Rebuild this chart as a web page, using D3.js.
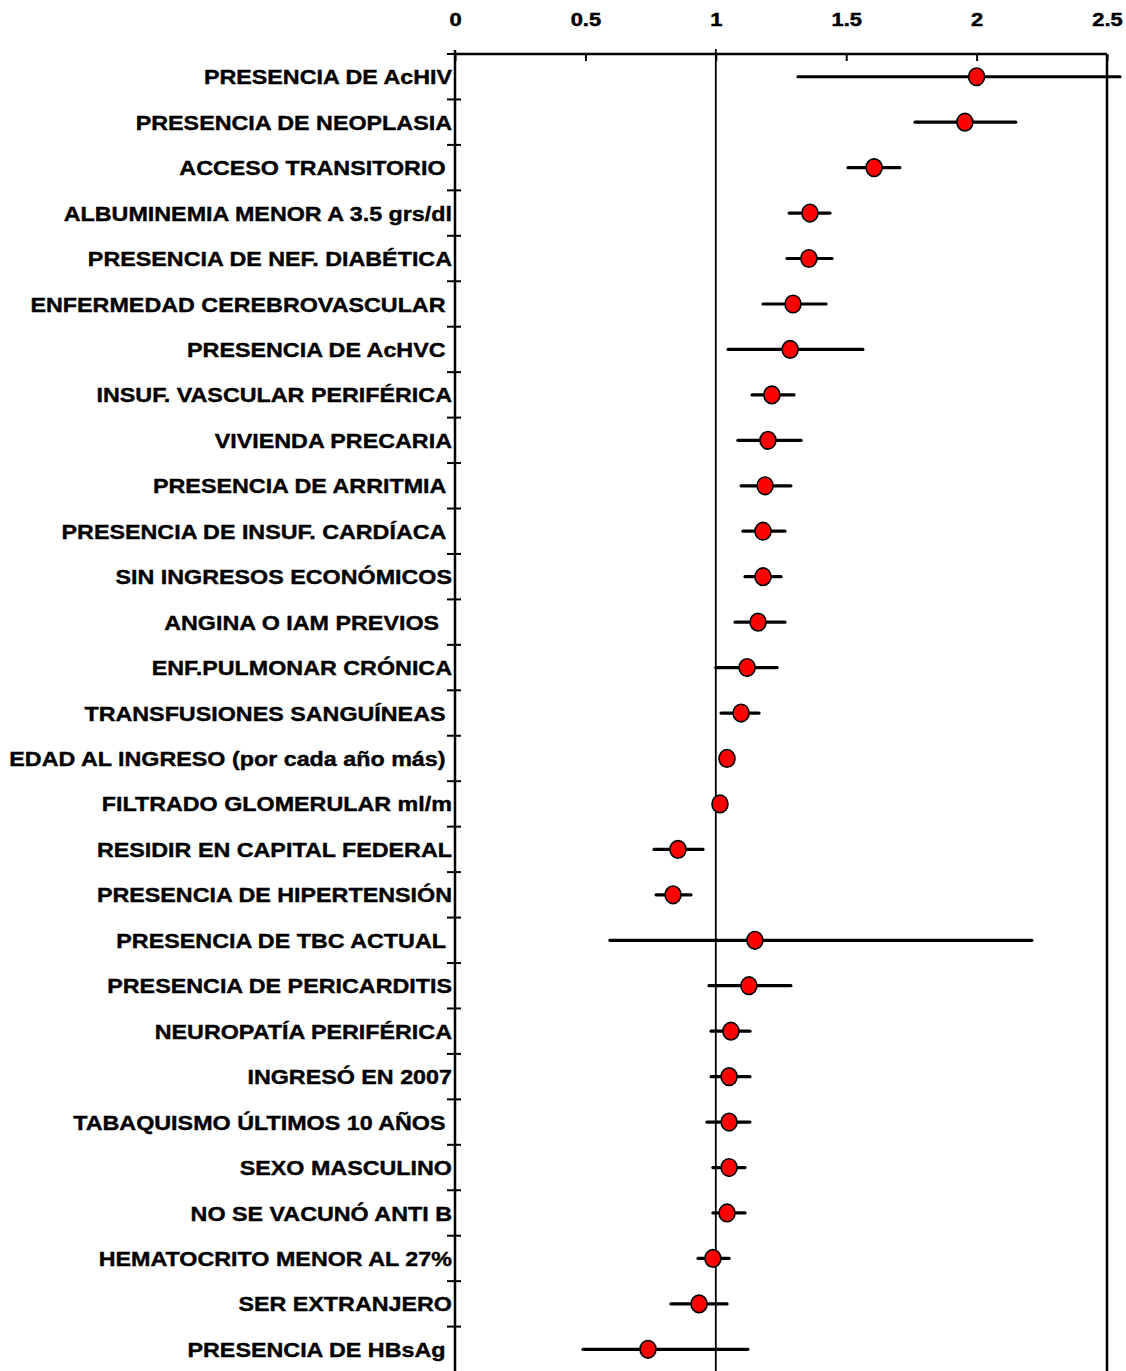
<!DOCTYPE html>
<html lang="es">
<head>
  <meta charset="UTF-8">
  <title>Forest plot</title>
  <script src="https://d3js.org/d3.v7.min.js"></script>
  <style>
    body { margin: 0; background: #fff; }
    text { font-family: "Liberation Sans", Arial, sans-serif; font-weight: bold; white-space: pre; }
  </style>
</head>
<body>
  <svg width="1126" height="1371"></svg>
<script>
  const svg = d3.select("svg");
  const margin = { top: 54, left: 455, right: 19 };
  const width = +svg.attr("width");
  const innerWidth = width - margin.left - margin.right;
  const rowH = 45.45;

  // etiquetas (algunas con espacio final, como en el original)
  const labels = [
    "PRESENCIA DE AcHIV", "PRESENCIA DE NEOPLASIA", "ACCESO TRANSITORIO ",
    "ALBUMINEMIA MENOR A 3.5 grs/dl", "PRESENCIA DE NEF. DIABÉTICA", "ENFERMEDAD CEREBROVASCULAR ",
    "PRESENCIA DE AcHVC ", "INSUF. VASCULAR PERIFÉRICA", "VIVIENDA PRECARIA",
    "PRESENCIA DE ARRITMIA ", "PRESENCIA DE INSUF. CARDÍACA ", "SIN INGRESOS ECONÓMICOS",
    "ANGINA O IAM PREVIOS  ", "ENF.PULMONAR CRÓNICA", "TRANSFUSIONES SANGUÍNEAS ",
    "EDAD AL INGRESO (por cada año más) ", "FILTRADO GLOMERULAR ml/m", "RESIDIR EN CAPITAL FEDERAL",
    "PRESENCIA DE HIPERTENSIÓN", "PRESENCIA DE TBC ACTUAL ", "PRESENCIA DE PERICARDITIS",
    "NEUROPATÍA PERIFÉRICA", "INGRESÓ EN 2007", "TABAQUISMO ÚLTIMOS 10 AÑOS ",
    "SEXO MASCULINO", "NO SE VACUNÓ ANTI B", "HEMATOCRITO MENOR AL 27%",
    "SER EXTRANJERO", "PRESENCIA DE HBsAg "
  ];
  const estimate = [2.0, 1.955, 1.607, 1.361, 1.357, 1.296, 1.285, 1.215, 1.20, 1.189,
    1.181, 1.181, 1.162, 1.12, 1.097, 1.043, 1.016, 0.855, 0.836, 1.15,
    1.127, 1.058, 1.051, 1.051, 1.051, 1.043, 0.989, 0.936, 0.74];
  const lower = [1.315, 1.764, 1.507, 1.281, 1.273, 1.181, 1.047, 1.139, 1.085, 1.097,
    1.104, 1.112, 1.074, 1.0, 1.02, 1.043, 1.016, 0.763, 0.771, 0.594,
    0.974, 0.982, 0.982, 0.966, 0.989, 0.989, 0.932, 0.828, 0.491];
  const upper = [2.55, 2.15, 1.706, 1.438, 1.446, 1.423, 1.564, 1.30, 1.327, 1.288,
    1.265, 1.25, 1.265, 1.235, 1.166, 1.043, 1.016, 0.951, 0.905, 2.212,
    1.288, 1.131, 1.131, 1.131, 1.112, 1.112, 1.051, 1.043, 1.123];
  const xTicks = [0, 0.5, 1, 1.5, 2, 2.5];

  const data = labels.map((l, i) => ({ label: l, est: estimate[i], lo: lower[i], hi: upper[i] }));

  const x = d3.scaleLinear().domain([0, 2.5]).range([0, innerWidth]);
  const y = d3.scaleBand().domain(labels).range([0, rowH * labels.length]).padding(0);
  const bottom = 1400 - margin.top;

  const g = svg.append("g").attr("transform", `translate(${margin.left},${margin.top})`);

  // eje superior
  const axis = g.append("g")
    .call(d3.axisTop(x).tickValues(xTicks).tickFormat(d3.format("")).tickSize(-7).tickPadding(28));
  axis.select(".domain").attr("stroke-width", 2.5).attr("d", `M0,0H${innerWidth}`);
  axis.selectAll(".tick line").attr("stroke-width", 2);
  axis.selectAll(".tick text").attr("font-size", "19px").attr("fill", "#000")
    .attr("font-family", "'Liberation Sans', Arial, sans-serif")
    .attr("stroke", "#000").attr("stroke-width", 0.5)
    .attr("transform", "scale(1.15,1)");

  // eje izquierdo, borde derecho y línea de referencia en 1
  g.append("line").attr("x1", 0).attr("x2", 0).attr("y1", -4).attr("y2", bottom)
    .attr("stroke", "#000").attr("stroke-width", 2.5);
  g.append("line").attr("x1", x(2.5)).attr("x2", x(2.5)).attr("y1", 0).attr("y2", bottom)
    .attr("stroke", "#000").attr("stroke-width", 2.5);
  g.append("line").attr("x1", x(1)).attr("x2", x(1)).attr("y1", -5).attr("y2", bottom)
    .attr("stroke", "#000").attr("stroke-width", 1.8);

  // marcas entre categorías
  g.append("g").selectAll("line").data(labels).join("line")
    .attr("x1", -8).attr("x2", 6)
    .attr("y1", d => y(d)).attr("y2", d => y(d))
    .attr("stroke", "#000").attr("stroke-width", 2);

  // etiquetas
  g.append("g").selectAll("text").data(data).join("text")
    .attr("transform", d => `translate(-3,${y(d.label) + y.bandwidth() / 2}) scale(1.11,1)`)
    .attr("dy", "0.36em")
    .attr("text-anchor", "end")
    .attr("font-size", "21px")
    .attr("fill", "#000")
    .attr("stroke", "#000").attr("stroke-width", 0.4)
    .text(d => d.label);

  // intervalos
  const rows = g.append("g").selectAll("g").data(data).join("g")
    .attr("transform", d => `translate(0,${y(d.label) + y.bandwidth() / 2})`);

  rows.filter(d => d.hi > d.lo).append("line")
    .attr("x1", d => x(d.lo)).attr("x2", d => x(d.hi))
    .attr("stroke", "#000").attr("stroke-width", 3.2).attr("stroke-linecap", "round");

  rows.append("ellipse")
    .attr("cx", d => x(d.est))
    .attr("rx", 8).attr("ry", 8.8)
    .attr("fill", "#ff0000")
    .attr("stroke", "#000").attr("stroke-width", 1.6);
</script>
</body>
</html>
